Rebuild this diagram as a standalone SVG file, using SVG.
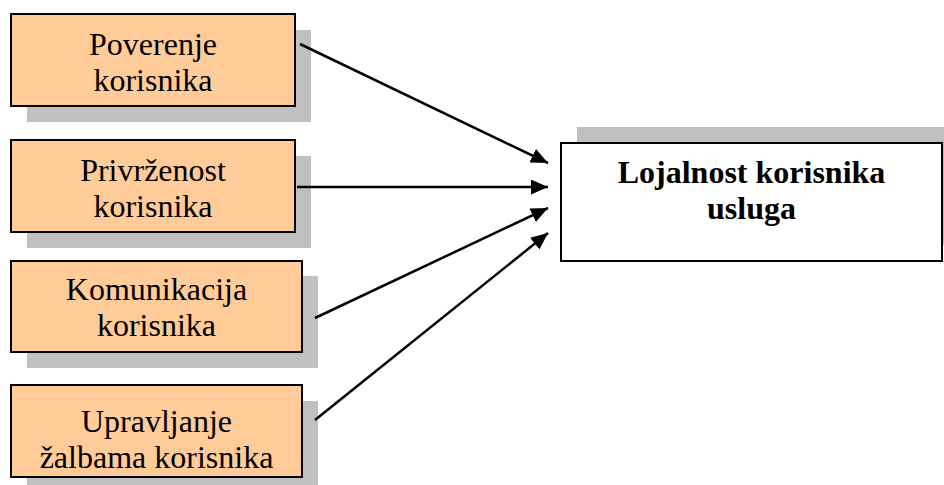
<svg xmlns="http://www.w3.org/2000/svg" width="944" height="485" viewBox="0 0 944 485">
  <style>
    .shadow { fill: #c0c0c0; }
    .src { fill: #ffcc99; stroke: #000; stroke-width: 2; }
    .dst { fill: #fff; stroke: #000; stroke-width: 2; }
    .lbl { font-family: "Liberation Serif", "Times New Roman", serif; font-size: 32px; fill: #000; text-anchor: middle; }
    .bold { font-weight: bold; }
    .edge { stroke: #000; stroke-width: 2.5; fill: none; marker-end: url(#arrow); }
  </style>
  <defs>
    <marker id="arrow" viewBox="0 0 17 15" refX="17" refY="7.5" markerWidth="17" markerHeight="15" markerUnits="userSpaceOnUse" orient="auto">
      <path d="M0,0 L17,7.5 L0,15 Z" fill="#000"/>
    </marker>
  </defs>

  <rect width="944" height="485" fill="#fff"/>

  <g id="poverenje">
    <rect class="shadow" x="27" y="30" width="284" height="92"/>
    <rect class="src" x="11" y="14" width="284" height="92"/>
    <text class="lbl" x="153" y="55">Poverenje</text>
    <text class="lbl" x="153" y="91">korisnika</text>
  </g>

  <g id="privrzenost">
    <rect class="shadow" x="27" y="156" width="284" height="92"/>
    <rect class="src" x="11" y="140" width="284" height="92"/>
    <text class="lbl" x="153" y="181">Privrženost</text>
    <text class="lbl" x="153" y="217">korisnika</text>
  </g>

  <g id="komunikacija">
    <rect class="shadow" x="27" y="276" width="291" height="92"/>
    <rect class="src" x="11" y="261" width="291" height="91"/>
    <text class="lbl" x="156.5" y="300">Komunikacija</text>
    <text class="lbl" x="156.5" y="336">korisnika</text>
  </g>

  <g id="upravljanje">
    <rect class="shadow" x="27" y="401" width="291" height="92"/>
    <rect class="src" x="11" y="385" width="291" height="92"/>
    <text class="lbl" x="156.5" y="432">Upravljanje</text>
    <text class="lbl" x="156.5" y="468">žalbama korisnika</text>
  </g>

  <g id="lojalnost">
    <rect class="shadow" x="577" y="127" width="381" height="118"/>
    <rect class="dst" x="561" y="143" width="381" height="118"/>
    <text class="lbl bold" x="751.5" y="183">Lojalnost korisnika</text>
    <text class="lbl bold" x="751.5" y="219">usluga</text>
  </g>

  <g id="connectors">
    <line class="edge" x1="300" y1="44" x2="548" y2="163"/>
    <line class="edge" x1="297" y1="187" x2="548" y2="187"/>
    <line class="edge" x1="315" y1="318" x2="548" y2="208"/>
    <line class="edge" x1="315" y1="420" x2="548" y2="233"/>
  </g>
</svg>
